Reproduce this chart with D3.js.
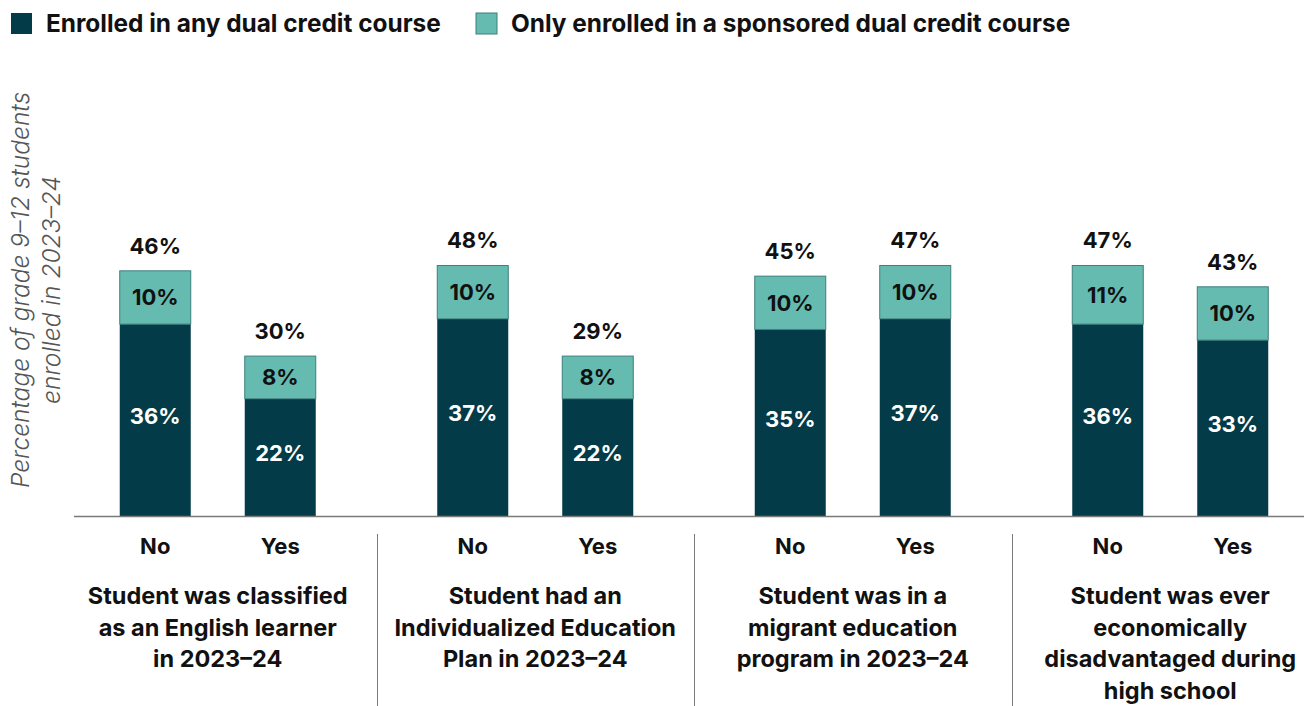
<!DOCTYPE html>
<html>
<head>
<meta charset="utf-8">
<script src="https://cdn.jsdelivr.net/npm/d3@7"></script>
<style>
  html, body { margin: 0; padding: 0; background: #fff; }
  svg { display: block; }
  text { font-family: Inter, "Noto Sans", sans-serif; }
</style>
</head>
<body>
<svg id="chart" width="1304" height="706"></svg>
<script>
// Student groups, each split into No / Yes
const groups = ["EL", "IEP", "Migrant", "EconDis"];
const groupLabels = [
  ["Student was classified", "as an English learner", "in 2023\u201324"],
  ["Student had an", "Individualized Education", "Plan in 2023\u201324"],
  ["Student was in a", "migrant education", "program in 2023\u201324"],
  ["Student was ever", "economically", "disadvantaged during", "high school"]
];
const statuses = ["No", "Yes"];

// Percent enrolled in a dual credit course (any) and only in a sponsored one
const anyDual       = [36, 22, 37, 22, 35, 37, 36, 33];
const sponsoredOnly = [10,  8, 10,  8, 10, 10, 11, 10];
const totals        = [46, 30, 48, 29, 45, 47, 47, 43];

const seriesNames = ["Enrolled in any dual credit course", "Only enrolled in a sponsored dual credit course"];
const yTitle = ["Percentage of grade 9\u201312 students", "enrolled in 2023\u201324"];

const colors = { dark: "#033b48", light: "#66bbb0", lightStroke: "#3d7f7d" };

const rows = anyDual.map((v, i) => ({
  group: groups[Math.floor(i / 2)],
  status: statuses[i % 2],
  any: v,
  sponsored: sponsoredOnly[i],
  total: totals[i]
}));

const svg = d3.select("#chart");

const y = d3.scaleLinear().domain([0, 50]).range([516, 249.5]);
const x0 = d3.scaleBand().domain(groups).range([59, 1329]).padding(0);
const x1 = d3.scaleBand().domain(statuses).range([-98, 98]).paddingInner(0.432).paddingOuter(0);

const barX = d => x0(d.group) + x0.bandwidth() / 2 + x1(d.status);
const barCx = d => barX(d) + x1.bandwidth() / 2;

// Stacked bars
const stack = d3.stack().keys(["any", "sponsored"]);
const layers = stack(rows);

const layerG = svg.append("g").selectAll("g")
  .data(layers).join("g");

layerG.selectAll("rect")
  .data(l => l.map(s => ({ key: l.key, s })))
  .join("rect")
  .attr("x", d => barX(d.s.data))
  .attr("width", x1.bandwidth())
  .attr("y", d => y(d.s[1]))
  .attr("height", d => y(d.s[0]) - y(d.s[1]))
  .attr("fill", d => d.key === "any" ? colors.dark : colors.light)
  .attr("stroke", d => d.key === "any" ? "none" : colors.lightStroke)
  .attr("stroke-width", 1);

// Segment value labels
layerG.selectAll("text")
  .data(l => l.map(s => ({ key: l.key, s })))
  .join("text")
  .attr("x", d => barCx(d.s.data))
  .attr("y", d => (y(d.s[0]) + y(d.s[1])) / 2 - (d.key === "any" ? 4 : 0))
  .attr("dy", "0.36em")
  .attr("text-anchor", "middle")
  .attr("font-size", 22)
  .attr("font-weight", 700)
  .attr("fill", d => d.key === "any" ? "#ffffff" : "#111111")
  .text(d => d.s.data[d.key] + "%");

// Totals above bars
svg.append("g").selectAll("text")
  .data(layers[1])
  .join("text")
  .attr("x", s => barCx(s.data))
  .attr("y", s => y(s[1]) - 17)
  .attr("text-anchor", "middle")
  .attr("font-size", 22)
  .attr("font-weight", 700)
  .attr("fill", "#111111")
  .text(s => s.data.total + "%");

// Baseline
svg.append("line")
  .attr("x1", 74).attr("x2", 1304)
  .attr("y1", y(0) + 0.5).attr("y2", y(0) + 0.5)
  .attr("stroke", "#7a7a7a").attr("stroke-width", 1.5);

// No / Yes labels
svg.append("g").selectAll("text")
  .data(rows)
  .join("text")
  .attr("x", barCx)
  .attr("y", 554)
  .attr("text-anchor", "middle")
  .attr("font-size", 22)
  .attr("font-weight", 700)
  .attr("fill", "#111111")
  .text(d => d.status);

// Group labels
const gl = svg.append("g").selectAll("text")
  .data(groups)
  .join("text")
  .attr("x", g => x0(g) + x0.bandwidth() / 2)
  .attr("y", 604)
  .attr("text-anchor", "middle")
  .attr("font-size", 23.5)
  .attr("font-weight", 700)
  .attr("fill", "#111111");
gl.selectAll("tspan")
  .data((g, i) => groupLabels[i])
  .join("tspan")
  .attr("x", function () { return d3.select(this.parentNode).attr("x"); })
  .attr("dy", (d, i) => i === 0 ? 0 : 31.5)
  .text(d => d);

// Dividers between groups
svg.append("g").selectAll("line")
  .data(groups.slice(1))
  .join("line")
  .attr("x1", g => Math.round(x0(g)) + 0.5)
  .attr("x2", g => Math.round(x0(g)) + 0.5)
  .attr("y1", 534).attr("y2", 706)
  .attr("stroke", "#7a7a7a").attr("stroke-width", 1);

// Y axis title
const yt = svg.append("text")
  .attr("transform", "translate(0,290) rotate(-90)")
  .attr("text-anchor", "middle")
  .attr("font-size", 24.5)
  .attr("font-style", "italic")
  .attr("font-weight", 300)
  .attr("fill", "#555555");
yt.selectAll("tspan")
  .data(yTitle)
  .join("tspan")
  .attr("x", 0)
  .attr("y", (d, i) => 29 + i * 31)
  .text(d => d);

// Legend
const legend = svg.append("g");
const legendX = [11, 476];
const li = legend.selectAll("g")
  .data(seriesNames)
  .join("g")
  .attr("transform", (d, i) => `translate(${legendX[i]},13)`);
li.append("rect")
  .attr("width", 21).attr("height", 21)
  .attr("fill", (d, i) => i === 0 ? colors.dark : colors.light)
  .attr("stroke", (d, i) => i === 0 ? "none" : colors.lightStroke)
  .attr("stroke-width", 1);
li.append("text")
  .attr("x", 35)
  .attr("y", 18.5)
  .attr("font-size", 24.4)
  .attr("font-weight", 700)
  .attr("fill", "#111111")
  .text(d => d);
</script>
</body>
</html>
